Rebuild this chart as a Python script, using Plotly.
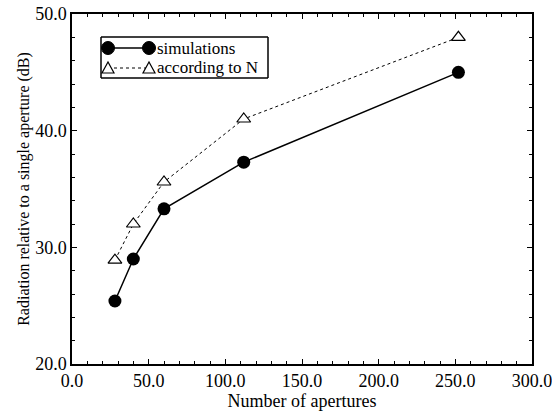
import plotly.graph_objects as go

apertures = [28, 40, 60, 112, 252]
simulations = [25.4, 29.0, 33.3, 37.3, 45.0]
according_to_n = [28.9, 32.0, 35.6, 41.0, 48.0]

x_ticks = [0, 50, 100, 150, 200, 250, 300]
y_ticks = [20, 30, 40, 50]
series_names = ["simulations", "according to N"]

FONT = "Liberation Serif"

fig = go.Figure()
fig.add_trace(go.Scatter(
    x=apertures, y=simulations, name=series_names[0], mode="lines+markers",
    line=dict(color="black", width=1.5),
    marker=dict(symbol="circle", size=13, color="black"),
    showlegend=False,
))
fig.add_trace(go.Scatter(
    x=apertures, y=according_to_n, name=series_names[1], mode="lines+markers",
    line=dict(color="black", width=1, dash="dot"),
    marker=dict(symbol="triangle-up", size=12, color="white",
                line=dict(color="black", width=1.2)),
    showlegend=False,
))

axis_common = dict(
    showline=True, linecolor="black", linewidth=1.5, mirror="allticks",
    ticks="inside", ticklen=5, tickwidth=1, tickcolor="black",
    showgrid=False, zeroline=False, tickformat=".1f",
    tickfont=dict(family=FONT, size=18, color="black"),
    automargin=False, ticklabeloverflow="allow",
)

# ---- hand-built legend box (marker - line - marker samples, as in the original)
L, R, T, B = 72, 20, 14, 48
W, H = 552, 412
def px(x):
    return (x - L) / (W - L - R)
def py(y):
    return (H - B - y) / (H - T - B)

bx0, bx1, by0, by1 = px(101), px(268), py(78), py(37)
frame = dict(color="black", width=1.5)
shapes = [
    dict(type="line", xref="x domain", yref="y domain", x0=bx0, x1=bx1, y0=by0, y1=by0, line=frame),
    dict(type="line", xref="x domain", yref="y domain", x0=bx0, x1=bx1, y0=by1, y1=by1, line=frame),
    dict(type="line", xref="x domain", yref="y domain", x0=bx0, x1=bx0, y0=by0, y1=by1, line=frame),
    dict(type="line", xref="x domain", yref="y domain", x0=bx1, x1=bx1, y0=by0, y1=by1, line=frame),
    dict(type="line", xref="paper", yref="paper", x0=px(108), x1=px(149),
         y0=py(48), y1=py(48), line=dict(color="black", width=1.5)),
    dict(type="line", xref="paper", yref="paper", x0=px(108), x1=px(149),
         y0=py(68), y1=py(68), line=dict(color="black", width=1, dash="dot")),
]
for cx in (108, 149):
    shapes.append(dict(type="circle", xref="paper", yref="paper",
                       xsizemode="pixel", ysizemode="pixel",
                       xanchor=px(cx), yanchor=py(48), x0=-6.5, x1=6.5, y0=-6.5, y1=6.5,
                       fillcolor="black", line=dict(color="black", width=1)))
    shapes.append(dict(type="path", xref="paper", yref="paper",
                       xsizemode="pixel", ysizemode="pixel",
                       xanchor=px(cx), yanchor=py(68),
                       path="M -6,-5 L 6,-5 L 0,6 Z",
                       fillcolor="white", line=dict(color="black", width=1.2)))

annotations = [
    dict(text=series_names[0], xref="paper", yref="paper", x=px(155), y=py(48),
         xanchor="left", yanchor="middle", showarrow=False,
         font=dict(family=FONT, size=17, color="black")),
    dict(text=series_names[1], xref="paper", yref="paper", x=px(155), y=py(68),
         xanchor="left", yanchor="middle", showarrow=False,
         font=dict(family=FONT, size=17, color="black")),
]

fig.update_layout(
    width=W, height=H,
    margin=dict(l=L, r=R, t=T, b=B),
    paper_bgcolor="white", plot_bgcolor="white",
    font=dict(family=FONT, color="black"),
    xaxis=dict(
        range=[0, 300], tickvals=x_ticks,
        minor=dict(dtick=10, ticks="inside", ticklen=3, tickcolor="black", showgrid=False),
        title=dict(text="Number of apertures", font=dict(family=FONT, size=18), standoff=2),
        **axis_common,
    ),
    yaxis=dict(
        range=[20, 50], tickvals=y_ticks,
        minor=dict(dtick=2, ticks="inside", ticklen=3, tickcolor="black", showgrid=False),
        title=dict(text="Radiation relative to a single aperture (dB)",
                   font=dict(family=FONT, size=16), standoff=2),
        **axis_common,
    ),
    shapes=shapes,
    annotations=annotations,
    showlegend=False,
)

fig.write_html("out.html", config={"displayModeBar": False},
               post_script="document.body.style.margin='0';")
